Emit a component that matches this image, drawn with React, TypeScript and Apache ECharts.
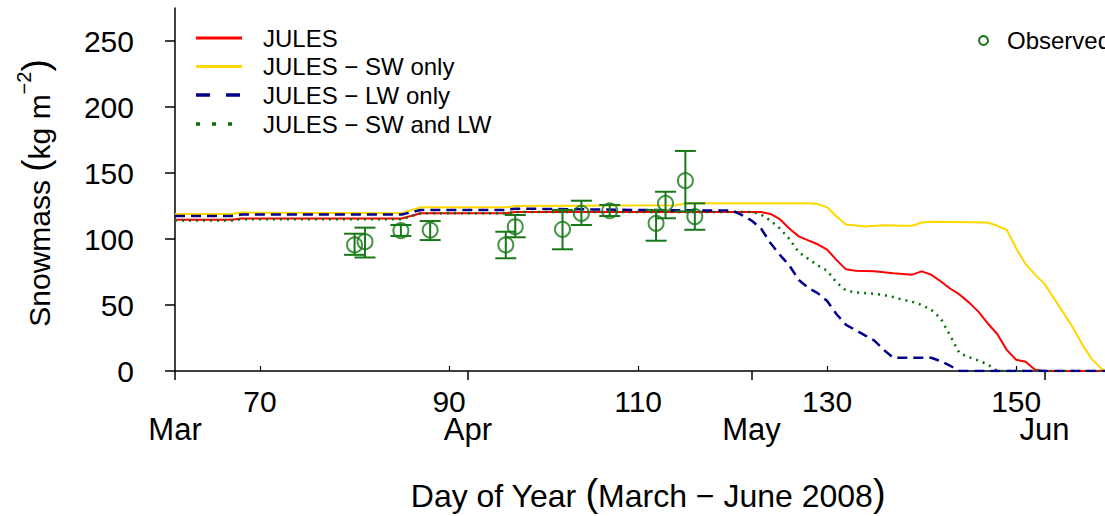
import React, { useEffect, useRef } from "react";
import * as echarts from "echarts";

// ---- data ----
const julesDays = [61, 67, 68, 85, 87, 96, 97, 123, 124, 125, 126, 127, 128, 129, 130, 131, 132, 133, 135, 137, 139, 140, 141, 142, 143, 144, 145, 146, 147, 148, 149, 150, 151, 152, 153, 159.4];
const julesValues = [114.5, 114.5, 115.5, 115.5, 119.5, 119.5, 120.5, 120.5, 119, 115, 108, 102, 99, 96, 92, 84, 77, 76, 75.5, 74, 73, 75.5, 73, 68, 62.5, 58, 52, 45, 36, 28, 16, 8.5, 7, 1, 0, 0];

const swDays = [61, 67, 68, 85, 87, 96, 97, 114, 115, 128, 129, 130, 131, 132, 134, 136, 138, 139, 140, 141, 147, 148, 149, 150, 151, 152, 153, 154, 155, 156, 157, 158, 159, 159.4];
const swValues = [119, 119, 120, 119.5, 124, 124, 125, 125.5, 127, 127, 126.5, 124, 117, 111, 109.5, 110.5, 110, 110, 112.5, 113, 112.5, 110, 107, 93, 81, 73, 66, 55, 44, 33, 20, 9, 2, 0];

const lwDays = [61, 67, 68, 85, 87, 96, 97, 104, 110, 120, 121, 122, 123, 124, 125, 126, 127, 128, 129, 130, 131, 132, 133, 134, 135, 136, 137, 141, 142, 143, 144, 159.4];
const lwValues = [117.5, 117.5, 118.5, 118.5, 122, 122, 123, 122.5, 122, 121.5, 118, 114, 108, 97, 88, 80, 69, 63, 59, 53, 43, 35, 31, 27, 23, 16, 10, 10, 7.5, 4, 0, 0];

const swlwDays = [61, 67, 68, 85, 87, 96, 97, 122, 123, 124, 125, 126, 127, 128, 129, 130, 131, 132, 133, 134, 135, 136, 137, 138, 139, 140, 141, 142, 143, 144, 145, 146, 147, 148, 159.4];
const swlwValues = [114, 114, 115, 115, 119.5, 119.5, 120.5, 120.5, 118.5, 114, 108, 100, 90, 85, 80, 76, 67, 61, 59.5, 59, 58.5, 57.5, 56, 54, 52.5, 50, 46.5, 40, 27, 13.5, 10.5, 8, 5, 0, 0];

const obsDays = [80, 81.1, 84.9, 88, 96, 97, 102, 104, 107, 111.9, 112.9, 115, 116];
const obsValues = [95.5, 98, 106.3, 106.8, 95.5, 109.3, 107.3, 119.4, 121.4, 111.9, 127, 144.2, 117];
const obsLow = [88, 86, 102.3, 99.2, 85.4, 101.3, 92.2, 110.6, 117.4, 98.7, 115.7, 121, 107];
const obsHigh = [104, 108.6, 110.6, 113.6, 105.5, 118.2, 122, 129, 125.8, 122, 135.8, 166.7, 127];

const dayTicks = [70, 90, 110, 130, 150];
const monthTicks = [61, 92, 122, 153];
const monthNames = ["Mar", "Apr", "May", "Jun"];
const yTicks = [0, 50, 100, 150, 200, 250];

const legendNames = ["JULES", "JULES \u2212 SW only", "JULES \u2212 LW only", "JULES \u2212 SW and LW"];

const RED = "#ff0000";
const GOLD = "#ffd700";
const NAVY = "#00008b";
const DGREEN = "#0a6e0a";
const OGREEN = "#167816";
const FONT = "'Liberation Sans', Arial, sans-serif";

const pairs = (d: number[], v: number[]) => d.map((x, i) => [x, v[i]]);

export default function App() {
  const ref = useRef<HTMLDivElement>(null);
  useEffect(() => {
    const chart = echarts.init(ref.current!, null, { renderer: "svg" });
    const lineSeries = (name: string, d: number[], v: number[], color: string, type: any, width: number) => ({
      name,
      type: "line",
      data: pairs(d, v),
      showSymbol: false,
      symbol: "none",
      lineStyle: { color, width, type },
      itemStyle: { color },
      z: 3,
    });
    const legendY = [38, 66.5, 95, 124];
    const legendStyles = [
      { stroke: RED, lineWidth: 3 },
      { stroke: GOLD, lineWidth: 3 },
      { stroke: NAVY, lineWidth: 3.5, lineDash: [14, 16] },
      { stroke: DGREEN, lineWidth: 3.5, lineDash: [4, 12] },
    ];
    const legendGraphics: any[] = [];
    legendNames.forEach((n, i) => {
      legendGraphics.push({
        type: "line",
        shape: { x1: 196, y1: legendY[i], x2: i === 3 ? 234 : 242, y2: legendY[i] },
        style: legendStyles[i],
      });
      legendGraphics.push({
        type: "text",
        x: 263,
        y: legendY[i],
        style: { text: n, font: `24px ${FONT}`, fill: "#000", textVerticalAlign: "middle", textAlign: "left" },
      });
    });
    legendGraphics.push({
      type: "circle",
      shape: { cx: 983.5, cy: 40.5, r: 4.5 },
      style: { fill: "none", stroke: OGREEN, lineWidth: 2 },
    });
    legendGraphics.push({
      type: "text",
      x: 1007,
      y: 40,
      style: { text: "Observed", font: `24px ${FONT}`, fill: "#000", textVerticalAlign: "middle", textAlign: "left" },
    });

    chart.setOption({
      animation: false,
      backgroundColor: "#ffffff",
      grid: { left: 175, right: 0, top: 8, bottom: 145, containLabel: false },
      xAxis: [
        {
          type: "value",
          min: 61,
          max: 159.4,
          position: "bottom",
          axisLine: { show: true, onZero: false, lineStyle: { color: "#000", width: 1.5 } },
          axisTick: { show: true, inside: true, length: 5, customValues: dayTicks, lineStyle: { color: "#000", width: 1.2 } },
          axisLabel: { customValues: dayTicks, margin: 18, fontSize: 30, lineHeight: 24, fontFamily: FONT, color: "#000" },
          splitLine: { show: false },
        },
        {
          type: "value",
          min: 61,
          max: 159.4,
          position: "bottom",
          axisLine: { show: false, onZero: false },
          axisTick: { show: true, inside: false, length: 9, customValues: monthTicks, lineStyle: { color: "#000", width: 1.5 } },
          axisLabel: {
            customValues: monthTicks,
            margin: 46,
            fontSize: 31,
            lineHeight: 24,
            fontFamily: FONT,
            color: "#000",
            formatter: (v: number) => monthNames[monthTicks.indexOf(Math.round(v))] ?? "",
          },
          splitLine: { show: false },
        },
      ],
      yAxis: {
        type: "value",
        min: 0,
        max: 275,
        axisLine: { show: true, onZero: false, lineStyle: { color: "#000", width: 1.5 } },
        axisTick: { show: true, inside: false, length: 10, customValues: yTicks, lineStyle: { color: "#000", width: 1.5 } },
        axisLabel: { customValues: yTicks, margin: 41, fontSize: 30, fontFamily: FONT, color: "#000" },
        splitLine: { show: false },
      },
      series: [
        lineSeries("JULES − SW only", swDays, swValues, GOLD, "solid", 2),
        lineSeries("JULES", julesDays, julesValues, RED, "solid", 2),
        lineSeries("JULES − SW and LW", swlwDays, swlwValues, DGREEN, [2, 5], 2.5),
        lineSeries("JULES − LW only", lwDays, lwValues, NAVY, [10, 6], 2.5),
        {
          name: "Observed error",
          type: "custom",
          data: obsDays.map((d, i) => [d, obsLow[i], obsHigh[i]]),
          encode: { x: 0, y: [1, 2] },
          z: 4,
          renderItem: (params: any, api: any) => {
            const x = api.value(0);
            const lo = api.coord([x, api.value(1)]);
            const hi = api.coord([x, api.value(2)]);
            const hw = 10.5;
            const style = { stroke: OGREEN, lineWidth: 2 };
            return {
              type: "group",
              children: [
                { type: "line", shape: { x1: lo[0], y1: lo[1], x2: hi[0], y2: hi[1] }, style },
                { type: "line", shape: { x1: lo[0] - hw, y1: lo[1], x2: lo[0] + hw, y2: lo[1] }, style },
                { type: "line", shape: { x1: hi[0] - hw, y1: hi[1], x2: hi[0] + hw, y2: hi[1] }, style },
              ],
            };
          },
        },
        {
          name: "Observed",
          type: "scatter",
          data: pairs(obsDays, obsValues),
          symbol: "circle",
          symbolSize: 15,
          z: 5,
          itemStyle: { color: "rgba(0,0,0,0)", borderColor: OGREEN, borderWidth: 2 },
        },
      ],
      graphic: [
        ...legendGraphics,
        {
          type: "text",
          x: 34,
          y: 193,
          rotation: Math.PI / 2,
          style: {
            text: "{a|Snowmass }{p|(}{a|kg m}{s|\u22122}{p|)}",
            textAlign: "center",
            textVerticalAlign: "middle",
            fill: "#000",
            rich: {
              a: { fontSize: 30, fontFamily: FONT, lineHeight: 40, verticalAlign: "bottom" },
              p: { fontSize: 37, fontFamily: FONT, lineHeight: 40, verticalAlign: "bottom" },
              s: { fontSize: 20, fontFamily: FONT, lineHeight: 40, verticalAlign: "top" },
            },
          },
        },
        {
          type: "text",
          x: 648,
          y: 494,
          style: {
            text: "{a|Day of Year }{p|(}{a|March \u2212 June 2008}{p|)}",
            textAlign: "center",
            textVerticalAlign: "middle",
            fill: "#000",
            rich: {
              a: { fontSize: 32, fontFamily: FONT, lineHeight: 36, verticalAlign: "bottom" },
              p: { fontSize: 38, fontFamily: FONT, lineHeight: 36, verticalAlign: "bottom" },
            },
          },
        },
      ],
    });
    return () => chart.dispose();
  }, []);
  return (
    <div
      ref={ref}
      style={{ position: "absolute", left: 0, top: 0, width: 1105, height: 516, background: "#fff" }}
    />
  );
}
